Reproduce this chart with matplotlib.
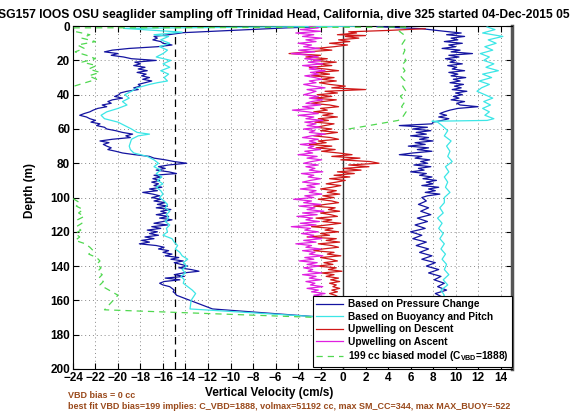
import numpy as np
import matplotlib
matplotlib.use('Agg')
import matplotlib.pyplot as plt

plt.rcParams['font.family'] = ['Liberation Sans', 'DejaVu Sans']

# ---- descent, based on pressure change (depth m, velocity cm/s)
blue_dn_depth = [0, 1, 3.8, 5, 6, 7, 8, 9, 10, 11, 12, 13, 14, 15, 16, 17, 18, 19, 20,
                 21, 22, 23, 24, 25, 26, 27, 28, 29, 30, 31, 32, 33, 34, 35, 36, 37, 38, 39, 40,
                 41, 42, 43, 44, 45, 46, 47, 48, 49, 50, 51, 52, 53, 54, 55, 56, 57, 58, 59, 60,
                 61, 62, 63, 64, 65, 66, 67, 68, 69, 70, 71, 72, 73, 74, 75, 76, 77, 78, 79, 80,
                 81, 82, 83, 84, 85, 86, 87, 88, 89, 90, 91, 92, 93, 94, 95, 96, 97, 98, 99, 100,
                 101, 102, 103, 104, 105, 106, 107, 108, 109, 110, 111, 112, 113, 114, 115, 116, 117, 118, 119, 120,
                 121, 122, 123, 124, 125, 126, 127, 128, 129, 130, 131, 132, 133, 134, 135, 136, 137, 138, 139, 140,
                 141, 142, 143, 144, 145, 146, 147, 148, 149, 150, 151, 152, 153, 154, 155, 156, 157, 165, 169.5]
blue_dn_vel = [0, -5, -14.2, -15.5, -16.8, -16.5, -16.9, -16.2, -16.0, -15.2, -16.5, -19.0, -20.5, -21.2, -20.0, -20.6, -19.5, -18.8, -16.6,
               -18.5, -18.0, -18.6, -17.6, -18.2, -17.4, -18.3, -17.5, -17.9, -17.2, -17.8, -17.0, -17.6, -18.2, -18.0, -18.6, -18.2, -19.2, -19.8, -19.9,
               -20.3, -19.6, -20.5, -20.9, -20.6, -21.4, -21.0, -21.8, -22.2, -22.5, -23.0, -23.4, -22.8, -22.5, -22.0, -22.4, -21.6, -21.9, -21.2, -21.0,
               -20.2, -19.6, -18.7, -19.3, -18.9, -20.5, -21.6, -20.8, -21.3, -21.0, -20.6, -20.9, -20.2, -19.6, -18.5, -17.2, -16.8, -15.8, -15.0, -13.9,
               -15.5, -16.4, -15.8, -16.6, -15.5, -14.8, -16.8, -16.2, -16.9, -16.3, -17.0, -16.4, -16.8, -16.1, -17.2, -16.5, -17.8, -16.9, -16.3, -17.0,
               -16.2, -16.8, -15.8, -16.5, -15.6, -16.6, -15.3, -16.2, -15.7, -16.6, -15.5, -16.3, -15.2, -16.0, -16.8, -15.6, -17.0, -16.2, -17.4, -16.5,
               -17.2, -16.4, -17.6, -16.8, -17.9, -17.2, -18.1, -16.6, -15.9, -16.4, -15.5, -16.0, -15.2, -15.8, -14.6, -15.3, -14.2, -15.0, -14.4, -13.8,
               -14.6, -13.5, -12.8, -14.2, -15.0, -14.1, -15.8, -14.5, -15.9, -16.3, -16.0, -15.4, -15.2, -15.0, -15.1, -14.9, -14.8, -11.6, -2.5]

# ---- ascent, based on pressure change
blue_up_depth = [169.5, 160, 158, 156, 154, 152, 150, 148, 146, 144, 142, 140, 138, 136, 134, 132, 130,
                 128, 126, 124, 122, 120, 118, 116, 114, 112, 110, 108, 106, 104, 102, 100,
                 99, 98, 97, 96, 95, 94, 93, 92, 91, 90, 89, 88, 87, 86, 85, 84, 83, 82, 81, 80,
                 79, 78, 77, 76, 75, 74, 73, 72, 71, 70, 69, 68, 67, 66, 65, 64, 63, 62, 61, 60,
                 59, 58, 57, 56, 55, 54, 53, 52, 51, 50, 49, 48, 47, 46, 45, 44, 43, 42, 41, 40,
                 39, 38, 37, 36, 35, 34, 33, 32, 31, 30, 29, 28, 27, 26, 25, 24, 23, 22, 21, 20,
                 19, 18, 17, 16, 15, 14, 13, 12, 11, 10, 9, 8, 7, 6, 5, 4, 3, 1.5, 0.3]
blue_up_vel = [-2.5, 8.0, 8.8, 8.2, 9.2, 8.4, 9.0, 8.1, 8.7, 7.6, 8.5, 7.4, 8.2, 7.0, 7.9, 6.8, 7.6,
               6.5, 7.4, 6.2, 7.0, 6.0, 7.3, 6.4, 7.5, 6.6, 7.8, 6.9, 7.6, 6.7, 7.4, 7.0,
               7.5, 8.6, 7.3, 8.2, 7.6, 8.5, 7.0, 8.0, 7.4, 8.3, 7.1, 7.9, 6.8, 7.4, 6.0, 7.2, 6.7, 7.8, 6.3, 7.5,
               6.9, 7.7, 6.4, 7.0, 5.0, 6.2, 7.9, 6.6, 7.6, 5.8, 7.3, 6.4, 8.0, 6.8, 7.6, 6.0, 7.4, 6.5, 7.8, 6.2,
               7.5, 5.0, 7.9, 8.0, 8.8, 9.4, 8.5, 9.2, 8.6, 9.0, 9.5, 10.2, 12.0, 10.4, 10.1, 10.8, 9.6, 10.3, 9.8, 10.6,
               10.0, 11.0, 9.7, 10.5, 9.9, 10.7, 9.5, 10.4, 9.8, 10.9, 9.6, 10.2, 9.4, 10.8, 9.7, 10.1, 9.3, 10.6, 9.5, 10.0,
               9.1, 10.3, 9.4, 11.5, 9.6, 10.4, 8.8, 10.0, 9.4, 10.6, 9.0, 10.2, 9.6, 10.8, 9.2, 10.5, 9.0, 7.0, 3.0]

# ---- descent, based on buoyancy and pitch
cyan_dn_depth = [0, 1.3, 3.5, 5, 6, 8, 10, 12, 14, 16, 18, 20, 22, 24, 26, 28, 30, 32, 33, 34,
                 36, 38, 40, 42, 44, 46, 48, 50, 52, 54, 56, 58, 60, 62, 63, 64, 66, 68, 70, 72,
                 74, 76, 78, 80, 82, 84, 86, 88, 90, 92, 94, 96, 98, 100, 102, 104, 106, 108, 110,
                 112, 114, 116, 118, 120, 122, 124, 126, 128, 130, 132, 134, 136, 138, 140, 142,
                 144, 146, 148, 150, 152, 154, 156, 158, 160, 165, 169.5]
cyan_dn_vel = [1.0, -19.5, -14.3, -16.8, -15.5, -16.2, -15.4, -16.3, -15.6, -16.0, -16.6, -15.3, -16.0, -15.4, -16.2, -15.5, -15.9, -15.6, -16.5, -17.2,
               -18.3, -18.8, -19.4, -19.0, -19.6, -19.2, -20.0, -21.0, -21.5, -21.2, -20.0, -19.4, -18.8, -18.3, -17.2, -18.2, -18.8, -18.9, -19.0, -18.9,
               -18.6, -17.4, -16.8, -16.4, -16.8, -16.2, -16.6, -16.1, -16.5, -16.0, -16.6, -16.2, -16.0, -16.3, -15.9, -15.6, -15.8, -15.4, -15.7,
               -15.5, -15.8, -15.4, -15.7, -15.6, -16.0, -15.2, -15.0, -14.7, -14.9, -14.5, -14.3, -13.8, -14.2, -13.9, -14.3,
               -14.0, -14.4, -14.1, -14.2, -13.8, -13.4, -13.1, -13.3, -13.5, -13.6, -2.5]

# ---- ascent, based on buoyancy and pitch
cyan_up_depth = [169.5, 165, 160, 157, 154, 151, 148, 145, 142, 139, 136, 133, 130, 127, 124, 121, 118,
                 115, 112, 109, 106, 103, 100, 97, 94, 91, 88, 85, 82, 79, 76, 73, 70, 67, 64, 61,
                 58, 56, 55.5, 55, 54, 52, 50, 48, 46, 44, 42, 40, 38, 36, 34, 32, 30, 28, 26, 24,
                 22, 20, 18, 16, 14, 12, 10, 8, 6, 4, 2, 0.5]
cyan_up_vel = [-2.5, 7.5, 8.6, 9.0, 8.7, 9.3, 8.9, 9.4, 9.0, 9.2, 8.8, 9.1, 8.7, 9.0, 8.6, 8.9, 8.5,
               8.8, 8.4, 8.9, 8.6, 9.0, 9.0, 9.5, 9.1, 9.3, 9.0, 9.4, 9.1, 9.7, 9.3, 9.5, 9.2, 9.6, 9.0, 9.3,
               8.8, 8.4, 7.9, 12.8, 13.4, 12.6, 13.0, 12.4, 13.1, 12.5, 13.3, 12.6, 11.9, 12.3, 13.0, 12.1, 13.2, 12.4, 13.8, 12.7,
               13.4, 12.5, 13.0, 12.2, 13.3, 12.6, 13.6, 12.9, 14.2, 12.4, 13.5, 12.8]

# ---- upwelling on descent
red_depth = [1.5, 2.5, 3.3, 4, 5, 5.5, 6, 7, 8, 9, 10, 11, 12, 13, 14, 15, 16, 17, 18, 19, 20,
             21, 22, 23, 24, 25, 26, 27, 28, 29, 30, 31, 32, 33, 34, 35, 36, 37, 38, 39, 40,
             41, 42, 43, 44, 45, 46, 47, 48, 49, 50, 51, 52, 53, 54, 55, 56, 57, 58, 59, 60,
             61, 62, 63, 64, 65, 66, 67, 68, 69, 70, 71, 72, 73, 74, 75, 76, 77, 78, 79, 80,
             81, 82, 83, 84, 85, 86, 87, 88, 89, 90, 91, 92, 93, 94, 95, 96, 97, 98, 99, 100,
             101, 102, 103, 104, 105, 106, 107, 108, 109, 110, 111, 112, 113, 114, 115, 116, 117, 118, 119, 120,
             121, 122, 123, 124, 125, 126, 127, 128, 129, 130, 131, 132, 133, 134, 135, 136, 137, 138, 139, 140,
             141, 142, 143, 144, 145, 146, 147, 148, 149, 150, 151, 152, 153, 154, 155, 156, 157, 158, 160, 163]
red_vel = [7.3, 4.0, 0.5, 1.2, -0.5, 2.0, 0.2, 1.4, -0.4, 0.6, -1.2, 0.4, -0.8, -2.4, -1.0, -3.2, -4.8, -2.0, -3.3, -1.4, -2.6,
           -0.6, -2.2, -1.0, -3.0, -1.6, -0.4, -2.4, -1.2, -2.8, -0.8, -1.9, -0.6, -2.1, -1.2, 0.2, -1.0, 2.0, -1.6, -0.5, -2.3,
           -1.0, -2.6, -0.6, -1.8, -2.8, -1.2, -0.4, -2.0, -1.4, -2.6, -0.9, -1.8, -0.5, -2.2, -1.3, -2.5, -0.8, -1.6, -2.4, -1.0,
           -2.0, -0.5, -1.7, -2.6, -1.1, -0.4, -2.2, -1.5, -3.0, -1.0, -2.4, -0.7, -1.9, -0.4, 0.8, -1.0, 1.5, -0.2, 2.4, 3.2,
           0.5, 2.3, 0.0, 1.6, -0.5, 1.0, -0.8, 0.6, -1.2, 0.2, -0.6, -1.5, -0.2, -1.0, -2.0, -0.6, -1.4, -0.3, -1.8, -0.8,
           -2.2, -1.0, -0.4, -1.6, -2.6, -0.7, -1.3, -0.3, -2.0, -1.1, -0.5, -2.4, -1.0, -1.8, -0.2, -1.4, -2.8, -0.9, -1.6, -0.4,
           -2.0, -1.2, -3.2, -0.6, -1.5, -0.3, -2.2, -1.0, -0.4, -1.8, -2.6, -0.8, -1.4, -0.2, -2.0, -1.1, -0.5, -1.7, -0.9, -2.3,
           -0.6, -1.3, -0.1, -1.9, -0.8, -1.5, -0.4, -1.1, -0.3, -1.2, -0.6, -0.9, -0.3, -1.0, -0.5, -1.2, -0.7, -0.4, -1.0, -2.5]

# ---- upwelling on ascent
mag_depth = [0, 1, 2, 3, 4, 5, 6, 7, 8, 9, 10, 11, 12, 13, 14, 15, 16, 17, 18, 19, 20,
             21, 22, 23, 24, 25, 26, 27, 28, 29, 30, 31, 32, 33, 34, 35, 36, 37, 38, 39, 40,
             41, 42, 43, 44, 45, 46, 47, 48, 49, 50, 51, 52, 53, 54, 55, 56, 57, 58, 59, 60,
             61, 62, 63, 64, 65, 66, 67, 68, 69, 70, 71, 72, 73, 74, 75, 76, 77, 78, 79, 80,
             81, 82, 83, 84, 85, 86, 87, 88, 89, 90, 91, 92, 93, 94, 95, 96, 97, 98, 99, 100,
             101, 102, 103, 104, 105, 106, 107, 108, 109, 110, 111, 112, 113, 114, 115, 116, 117, 118, 119, 120,
             121, 122, 123, 124, 125, 126, 127, 128, 129, 130, 131, 132, 133, 134, 135, 136, 137, 138, 139, 140,
             141, 142, 143, 144, 145, 146, 147, 148, 149, 150, 151, 152, 153, 154, 155, 156, 157, 158, 159, 160]
mag_vel = [-3.0, -2.2, -3.8, -2.0, -4.2, -2.6, -3.6, -1.9, -3.3, -2.4, -4.0, -2.8, -3.5, -2.1, -3.9, -2.5, -4.6, -3.0, -2.2, -3.4, -2.0,
           -3.1, -1.8, -3.6, -2.3, -3.0, -1.6, -2.9, -2.2, -3.4, -2.5, -1.9, -3.0, -2.4, -3.5, -2.7, -1.6, -3.2, -2.4, -2.9, -3.5,
           -2.2, -3.0, -1.8, -2.8, -3.3, -2.0, -3.6, -2.6, -4.5, -3.1, -2.2, -4.0, -2.6, -3.3, -1.8, -3.4, -2.4, -3.2, -2.0, -3.5,
           -2.5, -3.0, -1.6, -2.8, -3.6, -2.2, -3.0, -2.4, -3.8, -2.6, -3.1, -2.0, -3.4, -2.7, -4.0, -2.3, -3.2, -1.9, -2.8, -3.5,
           -2.2, -3.3, -2.5, -3.0, -1.8, -3.7, -2.6, -3.1, -2.0, -2.9, -3.6, -2.1, -3.2, -2.5, -3.8, -2.4, -3.0, -1.9, -3.4, -2.6,
           -4.4, -2.8, -3.5, -2.0, -3.9, -2.5, -3.2, -1.7, -3.6, -2.3, -4.1, -2.7, -3.3, -2.1, -3.8, -2.4, -4.6, -2.9, -3.4, -2.2,
           -3.7, -2.6, -3.1, -1.9, -3.5, -2.4, -4.2, -2.8, -3.3, -2.0, -3.6, -2.5, -3.0, -1.8, -3.4, -2.6, -3.9, -2.3, -3.2, -2.1,
           -3.5, -2.7, -3.1, -1.9, -3.6, -2.4, -3.0, -2.0, -3.3, -2.5, -2.9, -1.8, -3.2, -2.2, -2.8, -1.6, -2.6, -1.4, -2.0, -1.2]

# ---- 199 cc biased model
green_dn_depth = [0.6, 1.0, 3, 5, 7, 9, 11, 13, 15, 17, 19, 21, 23, 25, 27, 29, 31, 33, 35, 37,
                  50, 70, 90, 99, 101, 103, 105, 107, 109, 111, 113, 115, 117, 119, 121, 123, 125,
                  127, 129, 131, 133, 135, 137, 139, 141, 143, 145, 147, 149, 151, 157, 165.5, 170]
green_dn_vel = [5.6, -23.9, -23.9, -22.5, -23.2, -22.0, -23.6, -23.0, -23.8, -22.8, -22.0, -23.2, -21.9, -22.6, -21.6, -22.6, -21.9, -22.9, -23.9, -25.0,
                -25.5, -25.5, -25.2, -24.5, -23.9, -23.4, -23.7, -23.1, -23.5, -23.0, -23.6, -23.2, -23.7, -23.3, -23.8, -23.4, -23.8,
                -22.9, -22.5, -22.2, -22.6, -21.9, -21.6, -21.9, -21.5, -21.8, -21.4, -21.7, -21.3, -21.6, -20.0, -21.2, -2.2]
green_up_depth = [60, 58, 55, 53, 50, 47, 44, 41, 38, 35, 32, 29, 26, 23, 20, 17, 14, 11, 8, 5, 3, 0.6]
green_up_vel = [0.5, 2.3, 4.9, 5.3, 5.6, 5.2, 5.5, 5.1, 5.6, 5.3, 5.5, 5.1, 5.5, 5.2, 5.6, 5.3, 5.5, 5.2, 5.5, 5.4, 5.0, 5.6]

vbd_line = -14.9
title = 'SG157 IOOS OSU seaglider sampling off Trinidad Head, California, dive 325 started 04-Dec-2015 05:39'
note1 = 'VBD bias = 0 cc'
note2 = 'best fit VBD bias=199 implies: C_VBD=1888, volmax=51192 cc, max SM_CC=344, max MAX_BUOY=-522'

fig = plt.figure(figsize=(5.70, 4.15), dpi=100)
ax = fig.add_axes([0.128, 0.111, 0.770, 0.826])

blue = '#1414a0'
cyan = '#3ce6e6'
red = '#d01818'
mag = '#e020e0'
green = '#50d850'

h1, = ax.plot(blue_dn_vel, blue_dn_depth, color=blue, lw=0.9, zorder=3)
ax.plot(blue_up_vel, blue_up_depth, color=blue, lw=0.9, zorder=3)
h2, = ax.plot(cyan_dn_vel, cyan_dn_depth, color=cyan, lw=0.9, zorder=3)
ax.plot(cyan_up_vel, cyan_up_depth, color=cyan, lw=0.9, zorder=3)
h3, = ax.plot(red_vel, red_depth, color=red, lw=0.9, zorder=4)
h4, = ax.plot(mag_vel, mag_depth, color=mag, lw=0.9, zorder=5)
h5, = ax.plot(green_dn_vel, green_dn_depth, color=green, lw=0.9, ls=(0, (5, 4)), zorder=6)
ax.plot(green_up_vel, green_up_depth, color=green, lw=0.9, ls=(0, (5, 4)), zorder=6)

ax.axvline(0, color='#333333', lw=1.0, zorder=2)
ax.axvline(vbd_line, color='black', lw=0.9, ls=(0, (6, 4)), zorder=2)

ax.set_xlim(-24, 15)
ax.set_ylim(200, 0)
ax.set_xticks(np.arange(-24, 15, 2))
ax.set_yticks(np.arange(0, 201, 20))
ax.tick_params(direction='in', length=4, width=0.8, top=True, right=True, labelsize=8.5, pad=2)
for lab in ax.get_xticklabels() + ax.get_yticklabels():
    lab.set_fontweight('bold')
ax.grid(True, ls=(0, (1, 3)), color='#888888', lw=0.7)
for s in ax.spines.values():
    s.set_linewidth(0.8)
ax.spines['right'].set_linewidth(2.5)
ax.spines['right'].set_color('#555555')

ax.set_title(title, fontsize=8.7, fontweight='bold', pad=6)
ax.set_xlabel('Vertical Velocity (cm/s)', fontsize=8.5, fontweight='bold')
ax.xaxis.set_label_coords(0.447, -0.052)
ax.set_ylabel('Depth (m)', fontsize=8.5, fontweight='bold')
ax.yaxis.set_label_coords(-0.085, 0.52)

leg = ax.legend([h1, h2, h3, h4, h5],
                ['Based on Pressure Change', 'Based on Buoyancy and Pitch', 'Upwelling on Descent',
                 'Upwelling on Ascent', '199 cc biased model (C$_{\\mathregular{VBD}}$=1888)'],
                loc='lower right', bbox_to_anchor=(1.0, 0.006), borderaxespad=0,
                fancybox=False, edgecolor='black', framealpha=1, handlelength=2.6,
                handletextpad=0.5, prop={'size': 7.3, 'weight': 'bold'},
                labelspacing=0.25, borderpad=0.35)
leg.get_frame().set_linewidth(0.8)
leg.set_zorder(10)

brown = '#9a4a1c'
fig.text(68 / 570, 1 - 395 / 415, note1, fontsize=6.5, fontweight='bold', color=brown, va='center')
fig.text(68 / 570, 1 - 406 / 415, note2, fontsize=6.5, fontweight='bold', color=brown, va='center')

fig.savefig('out.png', dpi=100)
